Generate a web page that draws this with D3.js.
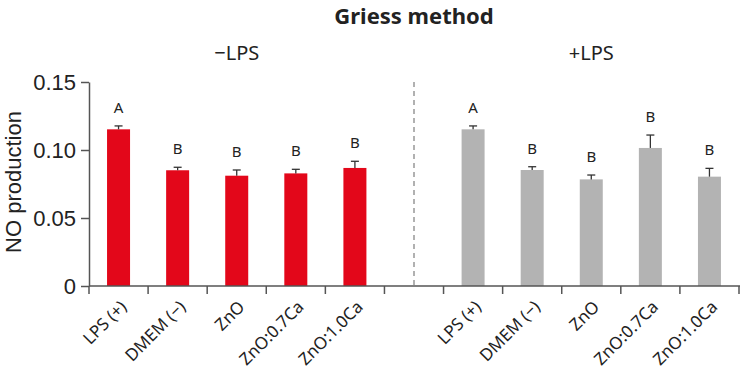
<!DOCTYPE html>
<html><head><meta charset="utf-8">
<script src="https://cdn.jsdelivr.net/npm/d3@7"></script>
<style>body{margin:0;background:#fff}svg{display:block}</style>
</head><body><svg id="c" width="742" height="374"></svg>
<script>
const categories = ["LPS (+)", "DMEM (\u2212)", "ZnO", "ZnO:0.7Ca", "ZnO:1.0Ca"];
const groups = ["\u2212LPS", "+LPS"];
const valuesMinus = [0.1152, 0.0851, 0.0811, 0.0828, 0.0868];
const errorsMinus = [0.0025, 0.0022, 0.0042, 0.0030, 0.0049];
const lettersMinus = ["A", "B", "B", "B", "B"];
const valuesPlus = [0.1152, 0.0853, 0.0784, 0.1015, 0.0804];
const errorsPlus = [0.0025, 0.0024, 0.0032, 0.0095, 0.0061];
const lettersPlus = ["A", "B", "B", "B", "B"];
const yTicks = [0, 0.05, 0.10, 0.15];
const yTickLabels = ["0", "0.05", "0.10", "0.15"];
const colors = ["#e3071a", "#b3b3b3"];

(function(){
const svg = d3.select("#c");
const mLeft = 89, mRight = 739, mTop = 82, mBottom = 286;

const slots = [];
categories.forEach((c,i)=>slots.push("m"+i));
slots.push("gap");
categories.forEach((c,i)=>slots.push("p"+i));

const x = d3.scaleBand().domain(slots).range([mLeft, mRight]).padding(0);
const y = d3.scaleLinear().domain([0, 0.15]).range([mBottom, mTop]);

const axisColor = "#555";
const font = "'Liberation Sans', Arial, sans-serif";
const nfont = "'Noto Sans', sans-serif";

const rows = [];
categories.forEach((c,i)=>rows.push({key:"m"+i, cat:c, v:valuesMinus[i], e:errorsMinus[i], l:lettersMinus[i], g:0}));
categories.forEach((c,i)=>rows.push({key:"p"+i, cat:c, v:valuesPlus[i], e:errorsPlus[i], l:lettersPlus[i], g:1}));

const barW = 23;
svg.append("g").selectAll("rect").data(rows).join("rect")
  .attr("x", d=>x(d.key)+x.bandwidth()/2-barW/2)
  .attr("width", barW)
  .attr("y", d=>y(d.v))
  .attr("height", d=>y(0)-y(d.v))
  .attr("fill", d=>colors[d.g]);

const eg = svg.append("g").attr("stroke", "#333").attr("stroke-width", 1.3);
rows.forEach(d=>{
  const cx = x(d.key)+x.bandwidth()/2;
  eg.append("line").attr("x1",cx).attr("x2",cx).attr("y1",y(d.v)).attr("y2",y(d.v+d.e));
  eg.append("line").attr("x1",cx-4).attr("x2",cx+4).attr("y1",y(d.v+d.e)).attr("y2",y(d.v+d.e));
});

svg.append("g").selectAll("text").data(rows).join("text")
  .attr("x", d=>x(d.key)+x.bandwidth()/2)
  .attr("y", d=>y(d.v+d.e)-13)
  .attr("text-anchor","middle")
  .attr("font-family",nfont)
  .attr("font-size",15).attr("fill","#222")
  .text(d=>d.l);

const gx = x("gap")+x.bandwidth()/2;
svg.append("line").attr("x1",gx).attr("x2",gx).attr("y1",y(0.15)).attr("y2",y(0))
  .attr("stroke","#888").attr("stroke-width",1.3).attr("stroke-dasharray","5,4");

const yAxis = d3.axisLeft(y).tickValues(yTicks).tickFormat((d,i)=>yTickLabels[i]).tickSize(8).tickSizeOuter(0).tickPadding(5);
const ya = svg.append("g").attr("transform",`translate(${mLeft},0)`).call(yAxis);
ya.select(".domain").attr("stroke",axisColor).attr("stroke-width",1.5);
ya.selectAll(".tick line").attr("stroke",axisColor).attr("stroke-width",1.5);
ya.selectAll(".tick text").attr("font-family",font).attr("font-size",22).attr("fill","#222");

const boundaries = slots.map(s=>x(s)).concat([mRight]);
const xa = svg.append("g");
xa.append("line").attr("x1",mLeft).attr("x2",mRight+1).attr("y1",mBottom).attr("y2",mBottom)
  .attr("stroke",axisColor).attr("stroke-width",1.5);
xa.selectAll("line.t").data(boundaries).join("line").attr("class","t")
  .attr("x1",d=>d).attr("x2",d=>d).attr("y1",mBottom).attr("y2",mBottom+8)
  .attr("stroke",axisColor).attr("stroke-width",1.5);

svg.append("g").selectAll("text").data(rows).join("text")
  .attr("transform", d=>`translate(${x(d.key)+x.bandwidth()/2+9},${mBottom+22}) rotate(-45)`)
  .attr("text-anchor","end")
  .attr("font-family",nfont)
  .attr("font-size",17).attr("fill","#222")
  .text(d=>d.cat);

const gcenters = [ (x("m0")+x("m4")+x.bandwidth())/2, (x("p0")+x("p4")+x.bandwidth())/2 ];
svg.append("g").selectAll("text").data(groups).join("text")
  .attr("x",(d,i)=>gcenters[i]).attr("y",60)
  .attr("text-anchor","middle")
  .attr("font-family",nfont)
  .attr("font-size",20).attr("fill","#222")
  .text(d=>d);

svg.append("text").attr("x",414).attr("y",24).attr("text-anchor","middle")
  .attr("font-family",nfont).attr("font-weight","bold")
  .attr("font-size",22).attr("fill","#222").text("Griess method");

svg.append("text").attr("transform","translate(21,182) rotate(-90)")
  .attr("text-anchor","middle").attr("font-family",font)
  .attr("font-size",22).attr("fill","#222").text("NO production");
})();
</script></body></html>
